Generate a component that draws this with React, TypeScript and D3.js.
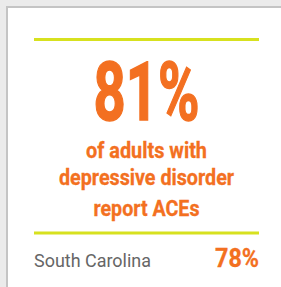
import React, { useEffect, useRef } from "react";
import * as d3 from "d3";

const headlineValues = [81];
const labelLines = ["of adults with", "depressive disorder", "report ACEs"];
const compareNames = ["South Carolina"];
const compareValues = [78];

const ORANGE = "#f37021";
const LIME = "#d7e11f";

export default function App() {
  const svgRef = useRef<SVGSVGElement>(null);

  useEffect(() => {
    const w = 281;
    const h = 287;
    const svg = d3.select(svgRef.current).attr("width", w).attr("height", h);
    svg.selectAll("*").remove();

    // background + card
    svg.append("rect").attr("width", w).attr("height", h).attr("fill", "#ebebeb");
    svg
      .append("rect")
      .attr("x", 7)
      .attr("y", 7)
      .attr("width", w)
      .attr("height", h)
      .attr("fill", "#fff")
      .attr("stroke", "#c4c4c4")
      .attr("stroke-width", 2);

    const x = d3.scaleLinear().domain([0, 1]).range([34, 259]);
    const cx = (x(0) + x(1)) / 2;

    // rules
    svg
      .selectAll(".rule")
      .data([39.5, 233])
      .join("line")
      .attr("x1", x(0))
      .attr("x2", x(1))
      .attr("y1", (d) => d)
      .attr("y2", (d) => d)
      .attr("stroke", LIME)
      .attr("stroke-width", 3);

    // big number
    svg
      .selectAll(".big")
      .data(headlineValues)
      .join("text")
      .attr("x", cx)
      .attr("y", 120)
      .attr("text-anchor", "middle")
      .attr("font-family", "Roboto")
      .attr("font-weight", 700)
      .attr("font-size", 81)
      .attr("fill", ORANGE)
      .attr("stroke", ORANGE)
      .attr("stroke-width", 1.5)
      .attr("textLength", 106)
      .attr("lengthAdjust", "spacingAndGlyphs")
      .text((d) => `${d}%`);

    // label lines
    const widths = [121, 175, 106];
    const baselines = [158, 185, 216];
    svg
      .selectAll(".lbl")
      .data(labelLines)
      .join("text")
      .attr("x", cx)
      .attr("y", (d, i) => baselines[i])
      .attr("text-anchor", "middle")
      .attr("font-family", "Roboto")
      .attr("font-weight", 700)
      .attr("font-size", 22)
      .attr("fill", ORANGE)
      .attr("stroke", ORANGE)
      .attr("stroke-width", 0.3)
      .attr("textLength", (d, i) => widths[i])
      .attr("lengthAdjust", "spacingAndGlyphs")
      .text((d) => d);

    // comparison row
    svg
      .selectAll(".cmpName")
      .data(compareNames)
      .join("text")
      .attr("x", x(0))
      .attr("y", 267)
      .attr("font-family", "Roboto")
      .attr("font-size", 18)
      .attr("fill", "#666")
      .attr("textLength", 117)
      .attr("lengthAdjust", "spacingAndGlyphs")
      .text((d) => d);

    svg
      .selectAll(".cmpVal")
      .data(compareValues)
      .join("text")
      .attr("x", x(1))
      .attr("y", 267)
      .attr("text-anchor", "end")
      .attr("font-family", "Roboto")
      .attr("font-weight", 700)
      .attr("font-size", 25)
      .attr("fill", ORANGE)
      .attr("stroke", ORANGE)
      .attr("stroke-width", 0.3)
      .attr("textLength", 44)
      .attr("lengthAdjust", "spacingAndGlyphs")
      .text((d) => `${d}%`);
  }, []);

  return (
    <div style={{ position: "absolute", left: 0, top: 0 }}>
      <svg ref={svgRef} style={{ display: "block" }}></svg>
    </div>
  );
}
